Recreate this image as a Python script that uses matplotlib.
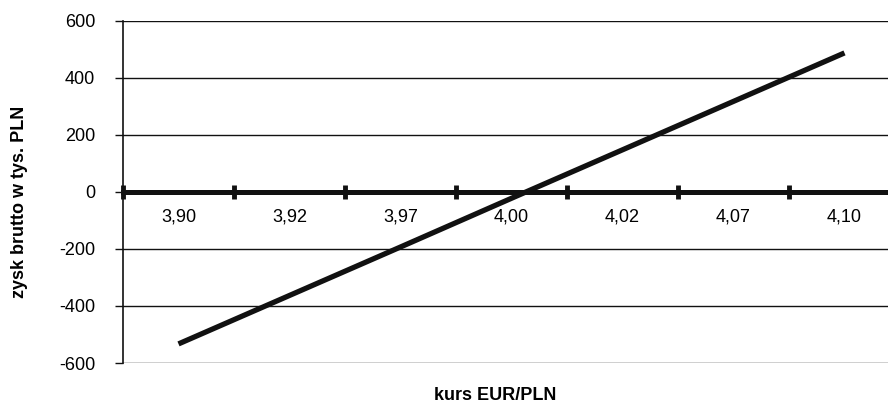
import matplotlib.pyplot as plt
from matplotlib.ticker import FixedLocator

plt.rcParams['font.family'] = ['Liberation Sans', 'DejaVu Sans']

# kurs EUR/PLN vs zysk brutto
kurs = ['3,90', '3,92', '3,97', '4,00', '4,02', '4,07', '4,10']
zysk = [-533, -363, -193, -22, 148, 318, 488]

fig = plt.figure(figsize=(8.88, 4.03), dpi=100)
ax = fig.add_axes([123 / 888, 1 - 363 / 403, 777 / 888, 342 / 403])

x = list(range(len(kurs)))
ax.plot(x, zysk, color='#111111', lw=3.8, solid_capstyle='butt', zorder=3)

ax.set_xlim(-0.5, len(kurs) - 0.5)
ax.set_ylim(-600, 600)
ax.set_yticks(range(-600, 601, 200))
ax.set_yticklabels([str(v) for v in range(-600, 601, 200)], fontsize=13)
ax.yaxis.grid(True, color='#111111', lw=1)
ax.set_axisbelow(True)

# category axis drawn at zero
ax.spines['bottom'].set_position(('data', 0))
ax.spines['bottom'].set_linewidth(3.6)
ax.spines['bottom'].set_color('#111111')
ax.spines['bottom'].set_zorder(4)
ax.spines['top'].set_visible(False)
ax.spines['right'].set_visible(False)
ax.spines['left'].set_color('#111111')
ax.spines['left'].set_linewidth(1.2)

ax.set_xticks(x)
ax.set_xticklabels(kurs, fontsize=13)
ax.tick_params(axis='x', which='major', length=0, pad=12)
ax.xaxis.set_minor_locator(FixedLocator([i - 0.5 for i in range(len(kurs) + 1)]))
ax.tick_params(axis='x', which='minor', direction='inout', length=10, width=3.5, color='#111111')
ax.tick_params(axis='y', length=6, width=1, color='#111111', pad=14)

ax.yaxis.set_label_coords(19 / 888, 0.5, transform=fig.transFigure)
ax.set_ylabel('zysk brutto w tys. PLN', fontsize=13, fontweight='bold', va='center')
fig.text(495 / 888, 1 - 395 / 403, 'kurs EUR/PLN', fontsize=13, fontweight='bold',
         ha='center', va='center')

fig.savefig('out.png', dpi=100)
